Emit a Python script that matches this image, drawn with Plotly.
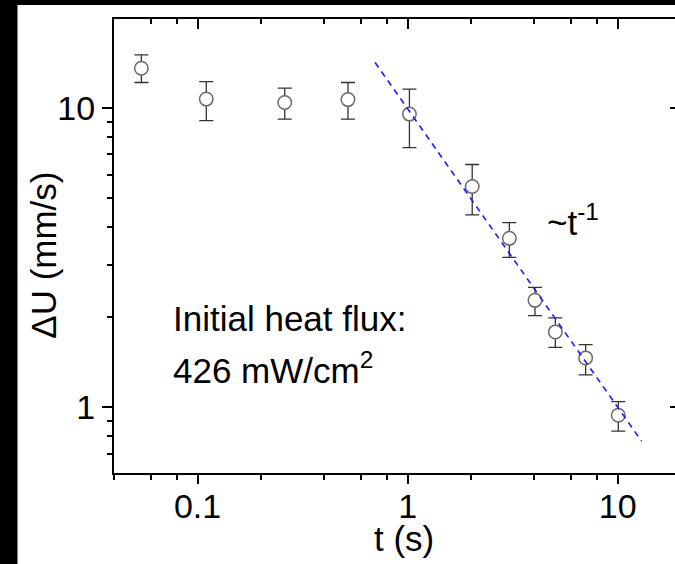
import plotly.graph_objects as go
import math

# ---- data ----
t_s = [0.054, 0.11, 0.26, 0.52, 1.02, 2.03, 3.05, 4.04, 5.05, 7.04, 10.07]
dU = [13.6, 10.72, 10.44, 10.68, 9.55, 5.47, 3.67, 2.277, 1.786, 1.462, 0.94]
err_up = [1.47, 1.55, 1.23, 1.50, 2.02, 1.01, 0.47, 0.24, 0.203, 0.158, 0.105]
err_dn = [1.42, 1.63, 1.25, 1.49, 2.17, 1.07, 0.50, 0.252, 0.200, 0.179, 0.108]

fit_t = [0.70, 13.0]
fit_dU = [14.2, 0.77]

x_major = [0.1, 1, 10]
x_major_text = ["0.1", "1", "10"]
x_minor = [0.04, 0.06, 0.08, 0.2, 0.4, 0.6, 0.8, 2, 4, 6, 8, 20]
y_major = [1, 10]
y_major_text = ["1", "10"]
y_minor = [0.6, 0.7, 0.8, 0.9, 2, 3, 4, 5, 6, 7, 8, 9, 20]

FONT = "Liberation Sans"
FS = 35
TFS = 34

xr = [math.log10(0.04), 1.273]
yr = [-0.2198, 1.298]

fig = go.Figure()

fig.add_trace(go.Scatter(
    x=t_s, y=dU, mode="markers",
    marker=dict(symbol="circle", size=13.5, color="white",
                line=dict(color="#6a6a6a", width=1.5)),
    error_y=dict(type="data", symmetric=False, array=err_up, arrayminus=err_dn,
                 color="#333333", thickness=1.3, width=7),
    showlegend=False, hoverinfo="skip"))

fig.add_trace(go.Scatter(
    x=fit_t, y=fit_dU, mode="lines",
    line=dict(color="#1a1aff", width=1.6, dash="6px,5px"),
    showlegend=False, hoverinfo="skip"))

# dummy trace for mirrored (inward-tick) axes
fig.add_trace(go.Scatter(x=[], y=[], xaxis="x2", yaxis="y2",
                         showlegend=False, hoverinfo="skip"))

axis_common = dict(type="log", showgrid=False, zeroline=False,
                   linecolor="black", tickcolor="black")

fig.update_layout(
    width=675, height=564,
    margin=dict(l=114, r=0, t=19, b=91),
    paper_bgcolor="white", plot_bgcolor="white",
    font=dict(family=FONT, size=FS, color="black"),
    xaxis=dict(**axis_common, range=xr, showline=True, linewidth=2,
               ticks="outside", ticklen=9, tickwidth=1.6,
               tickmode="array", tickvals=x_major, ticktext=x_major_text,
               tickfont=dict(family=FONT, size=TFS), ticklabelstandoff=-7,
               minor=dict(tickmode="array", tickvals=x_minor, ticks="outside",
                          ticklen=5, tickwidth=1.6, tickcolor="black")),
    yaxis=dict(**axis_common, range=yr, showline=True, linewidth=2,
               ticks="outside", ticklen=10, tickwidth=1.6,
               tickmode="array", tickvals=y_major, ticktext=y_major_text,
               tickfont=dict(family=FONT, size=TFS),
               minor=dict(tickmode="array", tickvals=y_minor, ticks="outside",
                          ticklen=5, tickwidth=1.6, tickcolor="black")),
    xaxis2=dict(**axis_common, range=xr, overlaying="x", side="top", anchor="y2",
                showline=True, linewidth=2, ticks="inside", ticklen=10, tickwidth=1.6,
                tickmode="array", tickvals=x_major, showticklabels=False,
                minor=dict(tickmode="array", tickvals=x_minor, ticks="inside",
                           ticklen=5, tickwidth=1.6, tickcolor="black")),
    yaxis2=dict(**axis_common, range=yr, overlaying="y", side="right", anchor="x2",
                showline=False, ticks="inside", ticklen=5, tickwidth=1.6,
                tickmode="array", tickvals=y_major, showticklabels=False),
)

# black strips at left and top edges of the picture
fig.add_shape(type="rect", xref="paper", yref="paper", xsizemode="pixel",
              xanchor=0, x0=-120, x1=-96.5, y0=-1, y1=2,
              fillcolor="black", line=dict(width=0), layer="above")
fig.add_shape(type="rect", xref="paper", yref="paper", ysizemode="pixel",
              yanchor=1, y0=14, y1=30, x0=-1, x1=2,
              fillcolor="black", line=dict(width=0), layer="above")

ann = dict(xref="paper", yref="paper", showarrow=False,
           font=dict(family=FONT, size=FS, color="black"))
fig.add_annotation(text="t (s)", x=(404 - 114) / 561, y=(473.5 - 539) / 454.5,
                   xanchor="center", yanchor="middle", **ann)
fig.add_annotation(text="ΔU (mm/s)", x=(44 - 114) / 561, y=(473.5 - 256) / 454.5,
                   xanchor="center", yanchor="middle", textangle=-90, **ann)
fig.add_annotation(text="Initial heat flux:", x=(171 - 114) / 561,
                   y=(473.5 - 319) / 454.5, xanchor="left", yanchor="middle", **ann)
fig.add_annotation(text="426 mW/cm<sup>2</sup>", x=(171 - 114) / 561,
                   y=(473.5 - 368) / 454.5, xanchor="left", yanchor="middle", **ann)
fig.add_annotation(text="~t<sup>-1</sup>", x=(545 - 114) / 561,
                   y=(473.5 - 220) / 454.5, xanchor="left", yanchor="middle", **ann)

fig.write_html("out.html")
